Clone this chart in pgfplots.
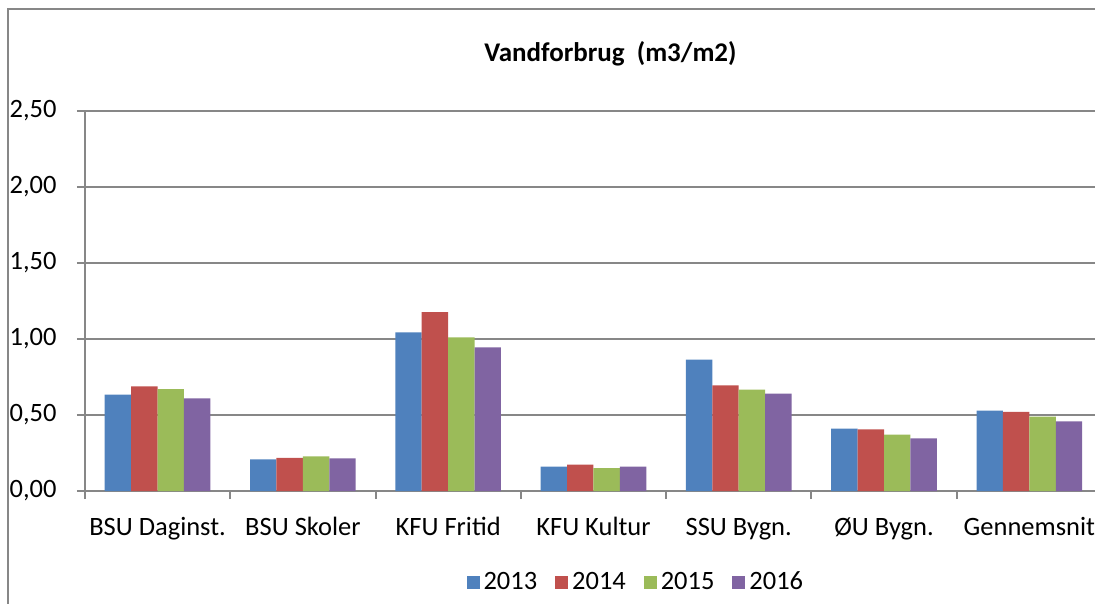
\documentclass[border=0pt]{standalone}
\usepackage{pgfplots}
\pgfplotsset{compat=1.18}
\usepackage{fontspec}
\setmainfont{Carlito}
\definecolor{c13}{HTML}{4F81BD}
\definecolor{c14}{HTML}{C0504D}
\definecolor{c15}{HTML}{9BBB59}
\definecolor{c16}{HTML}{8064A2}
\definecolor{gridgray}{HTML}{878787}
\pgfplotstableread{
x y13 y14 y15 y16
0 0.634 0.689 0.671 0.610
1 0.208 0.219 0.228 0.215
2 1.044 1.176 1.011 0.945
3 0.160 0.173 0.151 0.160
4 0.864 0.695 0.667 0.641
5 0.410 0.406 0.371 0.347
6 0.529 0.520 0.489 0.459
}\datatable
\begin{document}
\begin{tikzpicture}
\path (0,0) rectangle (548pt,302.5pt);
\fill[gridgray] (3.65pt,0pt) rectangle (4.65pt,298.35pt);
\fill[gridgray] (3.65pt,297.35pt) rectangle (548pt,298.35pt);
\begin{axis}[
  at={(42.5pt,56.75pt)}, anchor=south west,
  scale only axis, width=505.5pt, height=190.25pt,
  ybar=0pt, bar width=0.1818,
  xmin=-0.5, xmax=6.452, ymin=0, ymax=2.5,
  xtick={0,...,6},
  xticklabels={BSU Daginst., BSU Skoler, KFU Fritid, KFU Kultur, SSU Bygn., ØU Bygn., Gennemsnit},
  minor xtick={-0.5,0.5,...,5.5},
  major x tick style={draw=none},
  ytick={0,0.5,...,2.5},
  tick align=outside,
  major tick length=4pt, minor tick length=4pt,
  tick style={gridgray, line width=1pt},
  ymajorgrids, grid style={gridgray, line width=1pt},
  axis x line*=bottom, axis y line*=left,
  axis line style={gridgray, line width=1pt, -},
  tick label style={font=\fontsize{13.25}{15}\selectfont, text=black},
  /pgf/number format/assume math mode=true,
  /pgf/number format/fixed,
  /pgf/number format/fixed zerofill,
  /pgf/number format/precision=2,
  /pgf/number format/use comma,
  xticklabel style={anchor=base, yshift=-18pt, inner xsep=0pt},
  yticklabel style={anchor=east, inner sep=0pt, xshift=-10pt},
  legend columns=4,
  legend style={at={(axis description cs:0.5464,-0.24)}, anchor=center, draw=none, fill=none,
    font=\fontsize{13.25}{15}\selectfont,
    /tikz/every even column/.append style={column sep=7pt}},
  legend image code/.code={\fill[#1] (-1pt,-3.25pt) rectangle (5.5pt,3.25pt);},
  clip=false,
]
\addplot[fill=c13, draw=none] table[x=x,y=y13] {\datatable};
\addplot[fill=c14, draw=none] table[x=x,y=y14] {\datatable};
\addplot[fill=c15, draw=none] table[x=x,y=y15] {\datatable};
\addplot[fill=c16, draw=none] table[x=x,y=y16] {\datatable};
\legend{2013,2014,2015,2016}
\node[anchor=base, font=\fontsize{13.5}{16}\selectfont\bfseries] at (axis description cs:0.5203,1.1296) {Vandforbrug\ \ (m3/m2)};
\end{axis}
\end{tikzpicture}
\end{document}
